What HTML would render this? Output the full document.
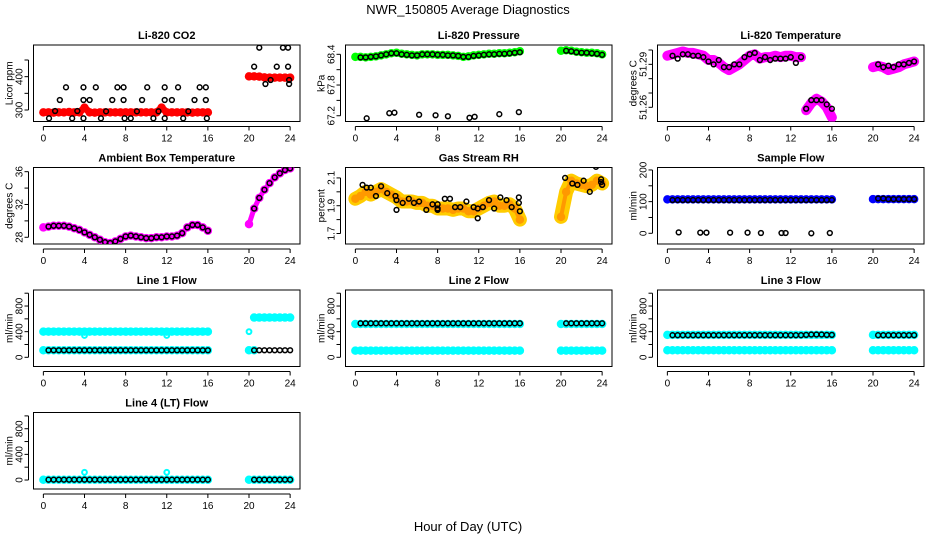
<!DOCTYPE html>
<html><head><meta charset="utf-8"><style>
html,body{margin:0;padding:0;background:#fff}
svg text{font-family:"Liberation Sans",sans-serif}
</style></head><body>
<svg id="c" width="936" height="540" viewBox="0 0 936 540" xmlns="http://www.w3.org/2000/svg">
<text x="468" y="14" text-anchor="middle" font-size="13">NWR_150805  Average Diagnostics</text>
<text x="468" y="531" text-anchor="middle" font-size="13">Hour of Day (UTC)</text>
</svg>
<script>
// ---- shared time categories ----
const tA=[0,0.5,1,1.5,2,2.5,3,3.5,4,4.5,5,5.5,6,6.5,7,7.5,8,8.5,9,9.5,10,10.5,11,11.5,12,12.5,13,13.5,14,14.5,15,15.5,16];
const tB=[20,20.5,21,21.5,22,22.5,23,23.5,24];
const tAvgA=[0.5,1,1.5,2,2.5,3,3.5,4,4.5,5,5.5,6,6.5,7,7.5,8,8.5,9,9.5,10,10.5,11,11.5,12,12.5,13,13.5,14,14.5,15,15.5,16];
const tAvgB=[20.5,21,21.5,22,22.5,23,23.5,24];
const xTicks=[0,4,8,12,16,20,24];

// ---- CO2 ----
const co2BandA=[293,293,292,293,293,294,293,293,307,293,292,293,293,293,293,293,293,293,293,293,293,293,293,307,293,293,293,293,293,292,293,293,293];
const co2BandB=[401,401,400,398,397,397,397,397,397];
const co2PtT=[0.55,1.14,1.6,2.2,2.8,3.3,3.9,3.9,3.9,4.5,5.1,5.6,6.1,6.7,7.2,7.8,7.8,7.9,8.5,9.1,9.6,10.1,10.7,11.2,11.8,11.8,11.8,12.5,13.1,13.6,14.1,14.7,15.2,15.8,15.8,15.9,20.5,21.0,21.6,22.1,22.7,23.3,23.8,23.8,23.9,23.9];
const co2PtV=[275,297,330,368,275,297,368,330,275,330,368,275,296,330,368,368,330,275,275,296,330,368,275,296,368,330,275,330,368,275,296,330,368,368,330,275,430,487,378,390,430,487,487,430,390,378];
// ---- Pressure ----
const prBandA=[68.35,68.35,68.34,68.35,68.36,68.38,68.40,68.42,68.43,68.41,68.40,68.39,68.38,68.40,68.40,68.40,68.39,68.39,68.39,68.38,68.37,68.35,68.36,68.38,68.39,68.40,68.41,68.41,68.42,68.42,68.43,68.44,68.46];
const prBandB=[68.47,68.48,68.47,68.45,68.44,68.43,68.43,68.42,68.40];
const prAvgA=[68.34,68.34,68.35,68.36,68.38,68.40,68.42,68.42,68.40,68.39,68.38,68.38,68.40,68.40,68.40,68.39,68.39,68.38,68.38,68.37,68.35,68.35,68.37,68.38,68.39,68.40,68.40,68.41,68.41,68.42,68.43,68.44];
const prAvgB=[68.47,68.46,68.44,68.43,68.43,68.42,68.41,68.39];
const prLowT=[1.1,3.3,3.8,6.2,7.8,9.0,11.1,11.6,14.0,15.9];
const prLowV=[67.15,67.25,67.26,67.22,67.21,67.19,67.16,67.18,67.23,67.27];
// ---- Li-820 Temperature ----
const tmBandA=[51.296,51.297,51.298,51.299,51.298,51.298,51.297,51.296,51.293,51.293,51.291,51.288,51.286,51.288,51.290,51.293,51.296,51.297,51.294,51.295,51.295,51.296,51.295,51.296,51.296,51.295,51.295,51.258,51.263,51.266,51.264,51.260,51.253];
const tmBandB=[51.288,51.289,51.288,51.286,51.287,51.288,51.290,51.291,51.292];
const tmAvgA=[51.296,51.294,51.297,51.297,51.296,51.296,51.295,51.292,51.290,51.293,51.288,51.288,51.290,51.290,51.295,51.297,51.298,51.293,51.295,51.293,51.294,51.294,51.294,51.295,51.291,51.295,51.259,51.265,51.265,51.265,51.262,51.259];
const tmAvgB=[51.290,51.288,51.289,51.288,51.290,51.290,51.291,51.292];
// ---- Ambient ----
const amBandA=[29.2,29.3,29.4,29.4,29.4,29.3,29.1,28.9,28.6,28.3,28.0,27.7,27.4,27.3,27.5,27.8,28.1,28.2,28.1,28.0,27.9,27.9,28.0,28.0,28.1,28.1,28.2,28.5,29.2,29.5,29.5,29.2,28.8];
const amBandB=[29.6,31.5,32.8,33.8,34.6,35.3,35.8,36.2,36.4];
const amAvgA=[29.3,29.4,29.4,29.4,29.3,29.1,28.9,28.6,28.3,28.0,27.7,27.4,27.3,27.5,27.8,28.1,28.2,28.1,28.0,27.9,27.9,28.0,28.0,28.1,28.1,28.2,28.5,29.2,29.5,29.5,29.2,28.8];
const amAvgB=[31.5,32.8,33.8,34.6,35.3,35.8,36.2,36.4];
// ---- RH ----
const rhBandA=[1.95,1.97,2.00,1.98,2.00,2.02,2.00,1.98,1.96,1.93,1.93,1.93,1.92,1.92,1.90,1.90,1.88,1.88,1.88,1.87,1.88,1.88,1.86,1.86,1.88,1.90,1.92,1.93,1.90,1.90,1.91,1.88,1.80];
const rhBandB=[1.82,2.00,2.08,2.06,2.05,2.04,2.05,2.08,2.06];
const rhPtT=[0.7,1.1,1.5,2.0,2.5,3.1,3.9,4.0,4.0,4.6,5.2,5.7,6.2,6.9,7.5,8.0,8.0,8.0,8.7,9.2,9.7,10.2,10.8,11.5,11.9,11.9,12.4,13.0,13.5,14.1,14.7,15.2,15.9,15.9,16.0,20.4,21.1,21.6,22.2,22.8,23.4,23.9,23.9,24.0];
const rhPtV=[2.05,2.03,2.03,1.97,2.04,1.99,1.97,1.94,1.87,1.92,1.95,1.92,1.93,1.87,1.91,1.91,1.88,1.87,1.95,1.95,1.89,1.89,1.93,1.89,1.88,1.81,1.89,1.94,1.88,1.96,1.94,1.89,1.96,1.92,1.86,2.10,2.06,2.05,2.08,2.00,2.18,2.09,2.07,2.05];
// ---- Sample flow ----
const sfBandA=[107,107,107,107,107,107,107,107,107,107,107,107,107,107,107,107,107,107,107,107,107,107,107,107,107,107,107,107,107,107,107,107,107];
const sfBandB=[108,108,108,108,108,108,108,108,108];
const sfAvgA=[105,105,105,105,105,105,105,105,105,105,105,105,105,105,105,105,105,105,105,105,105,105,105,105,105,105,105,105,105,105,105,105];
const sfAvgB=[110,110,108,108,108,108,108,108];
const sfZeroT=[1.1,3.2,3.8,6.1,7.8,9.1,11.1,11.5,14.0,15.8];
const sfZeroV=[3,2,2,2,2,1,1,1,0,1];
// ---- Line flows ----
const l1HiA=[400,400,400,400,400,400,400,400,400,400,400,400,400,400,400,400,400,400,400,400,400,400,400,400,400,400,400,400,400,400,400,400,400];
const l1HiB=[null,620,620,620,620,620,620,620,620];
const l1LoA=[110,110,110,110,110,110,110,110,110,110,110,110,110,110,110,110,110,110,110,110,110,110,110,110,110,110,110,110,110,110,110,110,110];
const l1LoB=[110,110,null,null,null,null,null,null,null];
const l1AvgA=[110,110,110,110,110,110,110,110,110,110,110,110,110,110,110,110,110,110,110,110,110,110,110,110,110,110,110,110,110,110,110,110];
const l1AvgB=[110,110,110,110,110,110,110,110];
const l1OutT=[4,12,20];
const l1OutV=[340,340,400];
const l2HiA=[520,520,520,520,520,520,520,520,520,520,520,520,520,520,520,520,520,520,520,520,520,520,520,520,520,520,520,520,520,520,520,520,520];
const l2HiB=[520,520,520,520,520,520,520,520,520];
const l2LoA=[105,105,105,105,105,105,105,105,105,105,105,105,105,105,105,105,105,105,105,105,105,105,105,105,105,105,105,105,105,105,105,105,105];
const l2LoB=[105,105,105,105,105,105,105,105,105];
const l2AvgA=[530,530,530,530,530,530,530,530,530,530,530,530,530,530,530,530,530,530,530,530,530,530,530,530,530,530,530,530,530,530,530,530];
const l2AvgB=[530,530,530,530,530,530,530,530];
const l3HiA=[350,350,350,350,350,350,350,350,350,350,350,350,350,350,350,350,350,350,350,350,350,350,350,350,350,350,350,350,350,350,350,350,350];
const l3HiB=[350,350,350,350,350,350,350,350,350];
const l3LoA=[110,110,110,110,110,110,110,110,110,110,110,110,110,110,110,110,110,110,110,110,110,110,110,110,110,110,110,110,110,110,110,110,110];
const l3LoB=[110,110,110,110,110,110,110,110,110];
const l3AvgA=[345,345,345,345,345,345,345,345,345,345,345,345,345,345,345,345,345,345,345,345,345,345,345,345,345,345,350,355,355,355,350,350];
const l3AvgB=[345,345,345,345,345,345,345,345];
const l4HiA=[5,5,5,5,5,5,5,5,5,5,5,5,5,5,5,5,5,5,5,5,5,5,5,5,5,5,5,5,5,5,5,5,5];
const l4HiB=[5,5,5,5,5,5,5,5,5];
const l4AvgA=[5,5,5,5,5,5,5,5,5,5,5,5,5,5,5,5,5,5,5,5,5,5,5,5,5,5,5,5,5,5,5,5];
const l4AvgB=[5,5,5,5,5,5,5,5];
const l4OutT=[4,12];
const l4OutV=[120,120];

const svg=document.getElementById('c');
const NS='http://www.w3.org/2000/svg';
function mk(tag,attrs,parent){const e=document.createElementNS(NS,tag);for(const k in attrs)e.setAttribute(k,attrs[k]);(parent||svg).appendChild(e);return e;}

function panel(col,row,name,title,ylab,ymin,ymax,yt,ylabels){
  const L=33.5+312*col,R=300+312*col,T=45+122.5*row,B=T+76.5;
  const g=mk('g',{});
  
  
  const x=t=>L+(t+0.96)/25.92*(R-L);
  const y=v=>B-(v-ymin)/(ymax-ymin)*(B-T);
  const box=mk('rect',{x:L,y:T,width:R-L,height:B-T,fill:'none',stroke:'#000','stroke-width':1},g);
  
  
  const tt=mk('text',{x:(L+R)/2,y:T-6,'text-anchor':'middle','font-size':11,'font-weight':'bold'},g);tt.textContent=title;
  
  
  const yl=mk('text',{transform:`translate(${L-21},${(T+B)/2}) rotate(-90)`,'text-anchor':'middle','font-size':10},g);yl.textContent=ylab;
  
  
  mk('line',{x1:x(0),x2:x(24),y1:B+5,y2:B+5,stroke:'#000'},g);
  xTicks.forEach(t=>{
    mk('line',{x1:x(t),x2:x(t),y1:B+5,y2:B+9,stroke:'#000'},g);
    const l=mk('text',{x:x(t),y:B+20,'text-anchor':'middle','font-size':10},g);l.textContent=t;
    
    
  });
  mk('line',{x1:L-5,x2:L-5,y1:y(yt[0]),y2:y(yt[yt.length-1]),stroke:'#000'},g);
  yt.forEach(v=>{mk('line',{x1:L-9,x2:L-5,y1:y(v),y2:y(v),stroke:'#000'},g);});
  ylabels.forEach(v=>{
    const l=mk('text',{transform:`translate(${L-11},${y(v)}) rotate(-90)`,'text-anchor':'middle','font-size':10},g);l.textContent=v;
    
    
  });
  const clip='clip'+name;
  const cp=mk('clipPath',{id:clip},g);mk('rect',{x:L,y:T,width:R-L,height:B-T},cp);
  const pg=mk('g',{'clip-path':`url(#${clip})`},g);
  return {
    band(ts,vs,color,w,nm){
      let pts=[];
      const flush=()=>{if(pts.length>1){const p=mk('polyline',{points:pts.join(' '),fill:'none',stroke:color,'stroke-width':w,'stroke-linecap':'round','stroke-linejoin':'round'},pg);
        
        }pts=[];};
      ts.forEach((t,i)=>{if(vs[i]==null){flush();return;}pts.push(x(t)+','+y(vs[i]));});flush();
      ts.forEach((t,i)=>{if(vs[i]==null)return;
        const c=mk('circle',{cx:x(t),cy:y(vs[i]),r:3,fill:'none',stroke:color,'stroke-width':2.5},pg);
        
        });
    },
    pts(ts,vs,color,nm,sw){
      ts.forEach((t,i)=>{if(vs[i]==null)return;
        const c=mk('circle',{cx:x(t),cy:y(vs[i]),r:2.4,fill:'none',stroke:color,'stroke-width':sw||1.5},pg);
        
        });
    }
  };
}
const flowTicks=[0,200,400,600,800,1000],flowLab=[0,400,800];
let p;
p=panel(0,0,'co2','Li-820 CO2','Licor ppm',265.5,495,[300,350,400,450],[300,400]);
p.band(tA,co2BandA,'#ff0000',7,'co2-raw');p.band(tB,co2BandB,'#ff0000',7,'co2-raw');
p.pts(co2PtT,co2PtV,'#000','co2-average-point');

p=panel(1,0,'pressure','Li-820 Pressure','kPa',67.0875,68.582,[67.2,67.5,67.8,68.1,68.4],['67.2','67.8','68.4']);
p.band(tA,prBandA,'#00ff00',7,'pressure-raw');p.band(tB,prBandB,'#00ff00',7,'pressure-raw');
p.pts(tAvgA,prAvgA,'#000','pressure-average-point');p.pts(tAvgB,prAvgB,'#000','pressure-average-point');
p.pts(prLowT,prLowV,'#000','pressure-low-point');

p=panel(2,0,'li820-temp','Li-820 Temperature','degrees C',51.2501,51.3035,[51.26,51.27,51.28,51.29,51.30],['51.26','51.29']);
p.band(tA.slice(0,27),tmBandA.slice(0,27),'#ff00ff',10,'temp-raw');p.band(tA.slice(27),tmBandA.slice(27),'#ff00ff',10,'temp-raw');p.band(tB,tmBandB,'#ff00ff',10,'temp-raw');
p.pts(tAvgA,tmAvgA,'#000','temp-average-point');p.pts(tAvgB,tmAvgB,'#000','temp-average-point');

p=panel(0,1,'ambient','Ambient Box Temperature','degrees C',27.18,36.51,[28,30,32,34,36],[28,32,36]);
p.band(tA,amBandA,'#ff00ff',5,'ambient-raw');p.band(tB,amBandB,'#ff00ff',5,'ambient-raw');
p.pts(tAvgA,amAvgA,'#000','ambient-average-point');p.pts(tAvgB,amAvgB,'#000','ambient-average-point');

p=panel(1,1,'rh','Gas Stream RH','percent',1.6245,2.175,[1.7,1.8,1.9,2.0,2.1],['1.7','1.9','2.1']);
p.band(tA,rhBandA,'#ffcc00',14,'rh-raw');p.band(tB,rhBandB,'#ffcc00',14,'rh-raw');
p.band(tA,rhBandA,'#ff9900',4,'rh-raw-core');p.band(tB,rhBandB,'#ff9900',4,'rh-raw-core');
p.pts(rhPtT,rhPtV,'#000','rh-average-point');

p=panel(2,1,'sample-flow','Sample Flow','ml/min',-33.8,207.8,[0,50,100,150,200],[0,100,200]);
p.band(tA,sfBandA,'#0000ff',6,'sample-flow-raw');p.band(tB,sfBandB,'#0000ff',6,'sample-flow-raw');
p.pts(tAvgA,sfAvgA,'#000','sample-flow-average-point');p.pts(tAvgB,sfAvgB,'#000','sample-flow-average-point');
p.pts(sfZeroT,sfZeroV,'#000','sample-flow-zero-point');

p=panel(0,2,'line1','Line 1 Flow','ml/min',-143.5,1050,flowTicks,flowLab);
p.band(tA,l1HiA,'#00ffff',7,'line1-raw');p.band(tB,l1HiB,'#00ffff',7,'line1-raw');
p.band(tA,l1LoA,'#00ffff',6,'line1-raw-low');p.band(tB,l1LoB,'#00ffff',6,'line1-raw-low');
p.pts(l1OutT,l1OutV,'#00ffff','line1-outlier',2);
p.pts(tAvgA,l1AvgA,'#000','line1-average-point');p.pts(tAvgB,l1AvgB,'#000','line1-average-point');

p=panel(1,2,'line2','Line 2 Flow','ml/min',-143.5,1050,flowTicks,flowLab);
p.band(tA,l2HiA,'#00ffff',6,'line2-raw');p.band(tB,l2HiB,'#00ffff',6,'line2-raw');
p.band(tA,l2LoA,'#00ffff',6,'line2-raw-low');p.band(tB,l2LoB,'#00ffff',6,'line2-raw-low');
p.pts(tAvgA,l2AvgA,'#000','line2-average-point');p.pts(tAvgB,l2AvgB,'#000','line2-average-point');

p=panel(2,2,'line3','Line 3 Flow','ml/min',-143.5,1050,flowTicks,flowLab);
p.band(tA,l3HiA,'#00ffff',7,'line3-raw');p.band(tB,l3HiB,'#00ffff',7,'line3-raw');
p.band(tA,l3LoA,'#00ffff',6,'line3-raw-low');p.band(tB,l3LoB,'#00ffff',6,'line3-raw-low');
p.pts(tAvgA,l3AvgA,'#000','line3-average-point');p.pts(tAvgB,l3AvgB,'#000','line3-average-point');

p=panel(0,3,'line4','Line 4 (LT) Flow','ml/min',-140,1053,flowTicks,flowLab);
p.band(tA,l4HiA,'#00ffff',6,'line4-raw');p.band(tB,l4HiB,'#00ffff',6,'line4-raw');
p.pts(l4OutT,l4OutV,'#00ffff','line4-outlier',2);
p.pts(tAvgA,l4AvgA,'#000','line4-average-point');p.pts(tAvgB,l4AvgB,'#000','line4-average-point');
</script>
</body></html>
